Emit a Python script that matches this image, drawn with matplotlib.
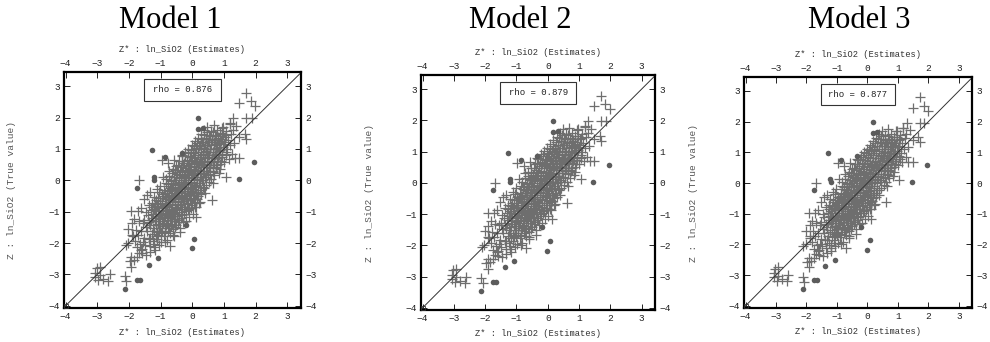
"""Three estimate-vs-true scatter panels (Model 1-3)."""

import matplotlib
matplotlib.use('Agg')
import matplotlib.pyplot as plt
from matplotlib.patches import Rectangle

# --- data ----------------------------------------------------------------
titles = ['Model 1', 'Model 2', 'Model 3']
rho_values = [0.876, 0.879, 0.877]

# dense cloud along the diagonal (estimate, true value)
core_pts = [
    (-1.83, -1.22), (-1.78, -1.57), (-1.81, -1.93), (-1.76, -2.14),
    (-1.72, -0.98), (-1.68, -1.31), (-1.71, -1.74), (-1.66, -2.03), (-1.69, -2.31),
    (-1.62, -0.88), (-1.57, -1.36), (-1.61, -1.62), (-1.55, -1.97), (-1.59, -2.19),
    (-1.52, -0.61), (-1.47, -1.02), (-1.51, -1.27), (-1.46, -1.49), (-1.53, -1.83), (-1.48, -2.06),
    (-1.42, -0.46), (-1.37, -0.79), (-1.41, -1.12), (-1.36, -1.34), (-1.43, -1.62), (-1.38, -1.86),
    (-1.35, -2.11),
    (-1.32, -0.38), (-1.27, -0.71), (-1.31, -0.96), (-1.26, -1.19), (-1.33, -1.44), (-1.28, -1.71),
    (-1.25, -1.94),
    (-1.22, -0.52), (-1.17, -0.74), (-1.21, -0.91), (-1.15, -1.08), (-1.19, -1.31), (-1.23, -1.52),
    (-1.16, -1.77), (-1.20, -2.02),
    (-1.12, -0.29), (-1.07, -0.56), (-1.10, -0.81), (-1.05, -0.99), (-1.13, -1.21), (-1.08, -1.39),
    (-1.04, -1.62), (-1.11, -1.86),
    (-1.02, -0.18), (-0.97, -0.44), (-1.01, -0.66), (-0.95, -0.86), (-0.99, -1.06), (-1.03, -1.24),
    (-0.96, -1.46), (-1.00, -1.69), (-0.98, -1.96),
    (-0.92, 0.12), (-0.88, -0.31), (-0.91, -0.49), (-0.86, -0.71), (-0.93, -0.89), (-0.87, -1.11),
    (-0.90, -1.29), (-0.85, -1.51), (-0.89, -1.76),
    (-0.82, 0.04), (-0.78, -0.19), (-0.81, -0.41), (-0.75, -0.59), (-0.79, -0.81), (-0.83, -0.96),
    (-0.76, -1.14), (-0.80, -1.36), (-0.77, -1.61), (-0.81, -1.91),
    (-0.72, 0.31), (-0.67, 0.01), (-0.71, -0.24), (-0.65, -0.46), (-0.69, -0.64), (-0.73, -0.86),
    (-0.66, -1.01), (-0.70, -1.19), (-0.68, -1.46), (-0.71, -1.69),
    (-0.62, 0.36), (-0.58, 0.09), (-0.61, -0.11), (-0.55, -0.29), (-0.59, -0.51), (-0.63, -0.69),
    (-0.56, -0.91), (-0.60, -1.06), (-0.57, -1.29), (-0.61, -1.56), (-0.59, -1.79),
    (-0.52, 0.46), (-0.47, 0.19), (-0.51, 0.01), (-0.45, -0.21), (-0.49, -0.39), (-0.53, -0.56),
    (-0.46, -0.74), (-0.50, -0.96), (-0.48, -1.14), (-0.51, -1.41),
    (-0.42, 0.61), (-0.38, 0.34), (-0.41, 0.16), (-0.35, -0.06), (-0.39, -0.24), (-0.43, -0.46),
    (-0.36, -0.61), (-0.40, -0.79), (-0.37, -1.01), (-0.41, -1.26), (-0.39, -1.51),
    (-0.32, 0.76), (-0.28, 0.49), (-0.31, 0.31), (-0.25, 0.09), (-0.29, -0.11), (-0.33, -0.29),
    (-0.26, -0.51), (-0.30, -0.66), (-0.27, -0.84), (-0.31, -1.11), (-0.29, -1.34),
    (-0.22, 0.91), (-0.18, 0.61), (-0.21, 0.39), (-0.15, 0.21), (-0.19, 0.01), (-0.23, -0.21),
    (-0.16, -0.39), (-0.20, -0.56), (-0.17, -0.76), (-0.21, -0.99), (-0.19, -1.29),
    (-0.12, 1.01), (-0.08, 0.74), (-0.11, 0.56), (-0.05, 0.34), (-0.09, 0.16), (-0.13, -0.06),
    (-0.06, -0.24), (-0.10, -0.46), (-0.07, -0.64), (-0.11, -0.91), (-0.09, -1.16),
    (-0.02, 1.11), (0.02, 0.86), (-0.01, 0.64), (0.05, 0.46), (0.01, 0.24), (-0.03, 0.06),
    (0.04, -0.16), (0.00, -0.34), (0.03, -0.56), (-0.01, -0.79), (0.01, -1.06),
    (0.08, 1.24), (0.12, 0.99), (0.09, 0.81), (0.15, 0.59), (0.11, 0.41), (0.07, 0.19),
    (0.14, 0.01), (0.10, -0.21), (0.13, -0.39), (0.09, -0.61), (0.11, -0.86),
    (0.18, 1.36), (0.22, 1.09), (0.19, 0.91), (0.25, 0.69), (0.21, 0.51), (0.17, 0.29),
    (0.24, 0.11), (0.20, -0.09), (0.23, -0.31), (0.19, -0.49), (0.21, -0.71),
    (0.28, 1.46), (0.32, 1.21), (0.29, 0.99), (0.35, 0.81), (0.31, 0.59), (0.27, 0.41),
    (0.34, 0.19), (0.30, 0.01), (0.33, -0.21), (0.29, -0.44),
    (0.38, 1.61), (0.42, 1.34), (0.39, 1.11), (0.45, 0.89), (0.41, 0.71), (0.37, 0.49),
    (0.44, 0.31), (0.40, 0.09), (0.43, -0.16), (0.39, -0.39),
    (0.48, 1.71), (0.52, 1.44), (0.49, 1.21), (0.55, 0.99), (0.51, 0.81), (0.47, 0.59),
    (0.54, 0.41), (0.50, 0.19), (0.53, -0.06),
    (0.58, 1.56), (0.62, 1.29), (0.59, 1.11), (0.65, 0.89), (0.61, 0.71), (0.57, 0.49),
    (0.64, 0.31), (0.60, 0.04),
    (0.68, 1.76), (0.72, 1.44), (0.69, 1.21), (0.75, 0.99), (0.71, 0.81), (0.67, 0.59),
    (0.74, 0.39), (0.70, 0.16),
    (0.78, 1.61), (0.82, 1.34), (0.79, 1.16), (0.85, 0.94), (0.81, 0.71), (0.77, 0.49), (0.84, 0.24),
    (0.88, 1.51), (0.92, 1.24), (0.89, 1.06), (0.95, 0.84), (0.91, 0.61), (0.87, 0.36),
    (0.98, 1.71), (1.02, 1.39), (0.99, 1.16), (1.05, 0.89), (1.01, 0.59),
    (1.08, 1.56), (1.12, 1.29), (1.09, 0.99), (1.15, 0.69),
    (1.18, 1.81), (1.22, 1.46), (1.19, 1.11), (1.25, 0.84),
    (1.28, 1.61), (1.32, 1.19),
]

# extra crosses between the ones above, where the cloud is solid
core_fill_pts = [
    (-1.26, -0.84), (-1.24, -1.06), (-1.29, -1.27), (-1.22, -1.61),
    (-1.14, -0.63), (-1.18, -0.96), (-1.13, -1.14), (-1.16, -1.42), (-1.11, -1.66),
    (-1.06, -0.36), (-1.03, -0.71), (-1.08, -0.89), (-1.02, -1.12), (-1.06, -1.31),
    (-1.01, -1.51), (-1.07, -1.74),
    (-0.94, -0.56), (-0.97, -0.77), (-0.93, -0.98), (-0.96, -1.18), (-0.92, -1.37), (-0.95, -1.61),
    (-0.84, -0.09), (-0.87, -0.41), (-0.83, -0.61), (-0.86, -0.79), (-0.84, -1.03), (-0.88, -1.21),
    (-0.82, -1.43), (-0.86, -1.66),
    (-0.74, 0.14), (-0.77, -0.12), (-0.73, -0.34), (-0.76, -0.53), (-0.72, -0.75), (-0.75, -0.92),
    (-0.73, -1.08), (-0.77, -1.28), (-0.74, -1.53),
    (-0.64, 0.22), (-0.67, -0.03), (-0.63, -0.21), (-0.66, -0.39), (-0.62, -0.58), (-0.65, -0.79),
    (-0.64, -0.97), (-0.67, -1.16), (-0.63, -1.38),
    (-0.54, 0.33), (-0.57, 0.11), (-0.53, -0.09), (-0.56, -0.31), (-0.52, -0.48), (-0.55, -0.66),
    (-0.54, -0.84), (-0.57, -1.04), (-0.53, -1.22), (-0.55, -1.49),
    (-0.44, 0.48), (-0.47, 0.26), (-0.43, 0.06), (-0.46, -0.14), (-0.42, -0.33), (-0.45, -0.53),
    (-0.44, -0.69), (-0.47, -0.88), (-0.43, -1.08), (-0.45, -1.33),
    (-0.34, 0.62), (-0.37, 0.41), (-0.33, 0.21), (-0.36, 0.01), (-0.32, -0.19), (-0.35, -0.38),
    (-0.34, -0.57), (-0.37, -0.74), (-0.33, -0.93), (-0.35, -1.19),
    (-0.24, 0.77), (-0.27, 0.54), (-0.23, 0.31), (-0.26, 0.13), (-0.22, -0.08), (-0.25, -0.29),
    (-0.24, -0.46), (-0.27, -0.66), (-0.23, -0.86), (-0.25, -1.07),
    (-0.14, 0.86), (-0.17, 0.66), (-0.13, 0.46), (-0.16, 0.26), (-0.12, 0.07), (-0.15, -0.13),
    (-0.14, -0.33), (-0.17, -0.51), (-0.13, -0.71), (-0.15, -0.96),
    (-0.04, 0.97), (-0.07, 0.76), (-0.03, 0.54), (-0.06, 0.36), (-0.02, 0.16), (-0.05, -0.04),
    (-0.04, -0.24), (-0.07, -0.43), (-0.03, -0.64), (-0.05, -0.87),
    (0.06, 1.08), (0.03, 0.91), (0.07, 0.71), (0.04, 0.51), (0.08, 0.33), (0.05, 0.11),
    (0.06, -0.08), (0.03, -0.27), (0.07, -0.47), (0.05, -0.72),
    (0.16, 1.19), (0.13, 1.03), (0.17, 0.81), (0.14, 0.62), (0.18, 0.43), (0.15, 0.22),
    (0.16, 0.03), (0.13, -0.17), (0.17, -0.38), (0.15, -0.59),
    (0.26, 1.31), (0.23, 1.12), (0.27, 0.91), (0.24, 0.73), (0.28, 0.53), (0.25, 0.31),
    (0.26, 0.12), (0.23, -0.09), (0.27, -0.31),
    (0.36, 1.44), (0.33, 1.22), (0.37, 1.03), (0.34, 0.83), (0.38, 0.63), (0.35, 0.41),
    (0.36, 0.22), (0.33, 0.02), (0.37, -0.24),
    (0.46, 1.53), (0.43, 1.33), (0.47, 1.12), (0.44, 0.93), (0.48, 0.73), (0.45, 0.51),
    (0.46, 0.31), (0.43, 0.09),
    (0.56, 1.41), (0.53, 1.22), (0.57, 1.01), (0.54, 0.81), (0.58, 0.62), (0.55, 0.39), (0.56, 0.16),
    (0.66, 1.53), (0.63, 1.32), (0.67, 1.11), (0.64, 0.91), (0.68, 0.72), (0.65, 0.49), (0.66, 0.27),
    (0.76, 1.41), (0.73, 1.22), (0.77, 1.03), (0.74, 0.83), (0.78, 0.62), (0.75, 0.41),
    (0.86, 1.41), (0.83, 1.19), (0.87, 0.98), (0.84, 0.79), (0.88, 0.52),
    (0.96, 1.49), (0.93, 1.31), (0.97, 1.06), (0.94, 0.73),
    (1.06, 1.44), (1.03, 1.21), (1.07, 0.79),
]

# scattered crosses away from the cloud
tail_pts = [
    (1.71, 2.79), (1.48, 2.45), (1.84, 2.52), (1.99, 2.36),
    (1.29, 1.97), (1.71, 1.97), (1.87, 1.97), (1.39, 1.73), (1.18, 1.79), (0.94, 1.68),
    (1.66, 1.49), (1.48, 1.39), (1.71, 1.33), (1.34, 0.70), (1.48, 0.70),
    (1.05, 0.11), (0.64, -0.10), (0.61, -0.63), (0.24, -0.68), (0.08, -0.84), (0.13, -1.16),
    (-0.34, 0.80), (-0.57, 0.66), (-0.76, 0.54), (-0.97, 0.64),
    (-1.68, 0.01), (-1.92, -0.97), (-1.90, -1.37), (-1.90, -1.74), (-1.87, -1.78),
    (-2.10, -2.06), (-2.03, -1.99), (-1.92, -2.44), (-1.85, -2.54), (-1.97, -2.56),
    (-1.92, -2.75), (-2.13, -3.05), (-2.08, -3.21),
    (-3.02, -2.79), (-2.92, -2.75), (-3.07, -2.94), (-2.92, -3.02), (-2.81, -3.13),
    (-2.97, -3.18), (-2.65, -3.20), (-2.60, -3.00), (-3.07, -3.07),
    (-0.71, -2.10), (-0.61, -1.74), (-0.39, -1.66), (-1.18, -2.22), (-1.63, -2.22),
    (-1.58, -2.33), (-1.32, -2.28), (-1.21, -2.12), (-1.32, -1.85),
    (-1.45, -2.38), (-1.74, -2.45), (-1.05, -2.05), (-0.86, -1.98), (-2.02, -1.55),
]

# filled circles
dot_pts = [
    (0.18, 1.99), (0.17, 1.63), (0.33, 1.66), (-1.28, 0.97), (-0.86, 0.74), (-0.34, 0.87),
    (-1.22, 0.12), (-1.21, 0.02), (-1.75, -0.24), (1.95, 0.58), (1.46, 0.04),
    (-0.20, -1.42), (0.07, -1.86), (-0.01, -2.17), (-1.08, -2.49), (-1.38, -2.71),
    (-1.76, -3.17), (-1.66, -3.17), (-2.13, -3.45),
]

ticks = [-4, -3, -2, -1, 0, 1, 2, 3]
est_label = 'Z* : ln_SiO2 (Estimates)'
true_label = 'Z : ln_SiO2 (True value)'

# --- layout (figure fractions) -------------------------------------------
panel_rects = [
    (0.0646, 0.0994, 0.2394, 0.690),
    (0.4253, 0.0936, 0.2364, 0.687),
    (0.7515, 0.0994, 0.2303, 0.675),
]
title_x = [170 / 990, 520 / 990, 859 / 990]

MONO = 'Liberation Mono'
GREY = '#6e6e6e'

fig = plt.figure(figsize=(9.9, 3.42), dpi=100)

all_cross = core_pts + core_fill_pts + tail_pts
cross_x = [p[0] for p in all_cross]
cross_y = [p[1] for p in all_cross]
dot_x = [p[0] for p in dot_pts]
dot_y = [p[1] for p in dot_pts]

for rect, title, rho, tx in zip(panel_rects, titles, rho_values, title_x):
    ax = fig.add_axes(rect)
    ax.set_xlim(-4.05, 3.43)
    ax.set_ylim(-4.07, 3.45)

    # 1:1 line and the corner marker
    ax.plot([-4.05, 3.6], [-4.05, 3.6], color='#333333', lw=0.7, zorder=2)
    ax.plot([-4], [-4], marker='s', ms=3, mfc='none', mec='#333333', mew=0.6, zorder=3)

    ax.plot(cross_x, cross_y, ls='none', marker='+', ms=7, mew=0.9,
            color=GREY, zorder=1)
    ax.plot(dot_x, dot_y, ls='none', marker='o', ms=4, color='#5c5c5c',
            mec='none', zorder=4)

    ax.set_xticks(ticks)
    ax.set_yticks(ticks)
    ax.tick_params(direction='in', length=4, width=0.7, top=True, right=True,
                   labeltop=True, labelright=True, labelsize=6.8, pad=3,
                   colors='#222222')
    for lab in ax.get_xticklabels() + ax.get_yticklabels():
        lab.set_fontfamily(MONO)
    for sp in ax.spines.values():
        sp.set_linewidth(1.6)
        sp.set_color('black')

    # rho box
    ax.add_patch(Rectangle((0.5 - 0.1625, 0.924 - 0.0465), 0.325, 0.093,
                           transform=ax.transAxes, fill=False,
                           ec='#333333', lw=0.8, zorder=5))
    ax.text(0.5, 0.924, f'rho = {rho:.3f}', transform=ax.transAxes,
            ha='center', va='center', fontsize=6.5, family=MONO,
            color='#222222', zorder=6)

    ax.text(0.5, 1.097, est_label, transform=ax.transAxes, ha='center',
            va='center', fontsize=6.3, family=MONO, color='#333333')
    ax.text(0.5, -0.102, est_label, transform=ax.transAxes, ha='center',
            va='center', fontsize=6.3, family=MONO, color='#333333')
    ax.text(-0.222, 0.5, true_label, transform=ax.transAxes, ha='center',
            va='center', rotation=90, fontsize=6.8, family=MONO,
            color='#555555')

    fig.text(tx, 1 - 20 / 342, title, ha='center', va='center',
             fontsize=22, family='Liberation Serif')

fig.savefig('out.png', dpi=100)
